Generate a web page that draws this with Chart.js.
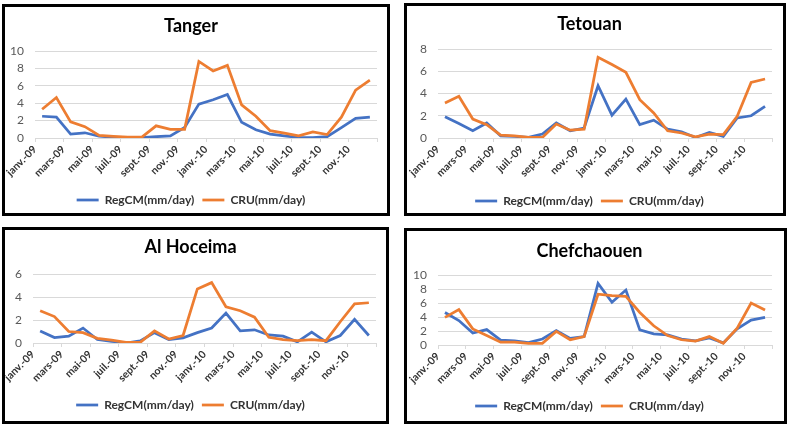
<!DOCTYPE html>
<html>
<head>
<meta charset="utf-8">
<script src="https://cdn.jsdelivr.net/npm/chart.js@4.4.1/dist/chart.umd.min.js"></script>
<style>
  body { margin: 0; background: #fff; width: 789px; height: 425px; position: relative; overflow: hidden; }
  .panel { position: absolute; border: 3px solid #000; background: #fff; }
  .panel canvas { display: block; }
</style>
</head>
<body>
<div class="panel" style="left:2px;top:4px;"><canvas id="tanger" width="382" height="206"></canvas></div>
<div class="panel" style="left:404px;top:3px;"><canvas id="tetouan" width="376" height="207"></canvas></div>
<div class="panel" style="left:2px;top:227px;"><canvas id="hoceima" width="381" height="191"></canvas></div>
<div class="panel" style="left:404px;top:228px;"><canvas id="chefchaouen" width="377" height="190"></canvas></div>
<script>
// mois de janv.-09 a dec.-10
const months = ['janv.-09', 'févr.-09', 'mars-09', 'avr.-09', 'mai-09', 'juin-09',
                'juil.-09', 'août-09', 'sept.-09', 'oct.-09', 'nov.-09', 'déc.-09',
                'janv.-10', 'févr.-10', 'mars-10', 'avr.-10', 'mai-10', 'juin-10',
                'juil.-10', 'août-10', 'sept.-10', 'oct.-10', 'nov.-10', 'déc.-10'];
const tickLabels = ['janv.-09', 'mars-09', 'mai-09', 'juil.-09', 'sept.-09', 'nov.-09',
                    'janv.-10', 'mars-10', 'mai-10', 'juil.-10', 'sept.-10', 'nov.-10'];

const tangerRegcm = [2.5, 2.4, 0.45, 0.6, 0.2, 0.1, 0.05, 0.05, 0.15, 0.25, 1.2, 3.9,
                     4.4, 5.0, 1.8, 0.95, 0.45, 0.25, 0.05, 0.05, 0.15, 1.2, 2.25, 2.4];
const tangerCru = [3.3, 4.65, 1.85, 1.3, 0.3, 0.2, 0.1, 0.1, 1.4, 1.0, 1.0, 8.8,
                   7.7, 8.35, 3.8, 2.5, 0.85, 0.55, 0.25, 0.7, 0.4, 2.4, 5.5, 6.65];

const tetouanRegcm = [1.9, 1.3, 0.65, 1.35, 0.2, 0.15, 0.05, 0.35, 1.35, 0.65, 0.9, 4.7,
                      2.05, 3.5, 1.2, 1.6, 0.8, 0.55, 0.05, 0.5, 0.15, 1.8, 2.0, 2.85];
const tetouanCru = [3.15, 3.75, 1.7, 1.2, 0.25, 0.2, 0.05, 0.05, 1.25, 0.7, 0.8, 7.25,
                    6.6, 5.9, 3.45, 2.25, 0.65, 0.45, 0.1, 0.35, 0.3, 1.95, 5.0, 5.3];

const hoceimaRegcm = [1.05, 0.47, 0.6, 1.3, 0.3, 0.15, 0.0, 0.18, 0.9, 0.3, 0.45, 0.9,
                      1.3, 2.6, 1.05, 1.15, 0.7, 0.6, 0.1, 0.95, 0.1, 0.65, 2.05, 0.65];
const hoceimaCru = [2.8, 2.3, 1.0, 0.9, 0.4, 0.25, 0.05, 0.05, 1.05, 0.35, 0.65, 4.7,
                    5.25, 3.15, 2.8, 2.25, 0.5, 0.3, 0.2, 0.3, 0.2, 1.85, 3.4, 3.5];

const chefRegcm = [4.65, 3.5, 1.7, 2.2, 0.7, 0.6, 0.35, 0.85, 2.05, 0.95, 1.2, 8.8,
                   6.1, 7.85, 2.15, 1.6, 1.45, 0.85, 0.6, 1.0, 0.3, 2.3, 3.55, 3.95];
const chefCru = [3.95, 5.05, 2.3, 1.35, 0.4, 0.4, 0.25, 0.25, 1.95, 0.75, 1.2, 7.25,
                 7.05, 6.95, 4.65, 2.75, 1.35, 0.75, 0.55, 1.2, 0.25, 2.4, 6.0, 5.0];

const BLUE = '#4472C4';
const ORANGE = '#ED7D31';
const FONT = 'Lato';

Chart.defaults.font.family = FONT;
Chart.defaults.animation = false;

// points places au milieu du mois (axe de dates Excel)
function toPoints(values) {
    return values.map((v, i) => ({ x: i + 0.5, y: v }));
}

function makeChart(id, title, regcm, cru, yMax, box) {
    const canvas = document.getElementById(id);
    const W = canvas.width, H = canvas.height;
    const titleLine = 18 * 1.2;
    const legPad = 8, legFont = 12;
    const legendH = (H - box.legendY) + legPad + legFont / 2;
    const xAxisH = H - legendH - box.bottom;

    new Chart(canvas.getContext('2d'), {
        type: 'line',
        data: {
            datasets: [
                {
                    label: 'RegCM(mm/day)',
                    data: toPoints(regcm),
                    borderColor: BLUE,
                    backgroundColor: BLUE,
                    borderWidth: 2.75,
                    pointRadius: 0,
                    tension: 0,
                    order: 1
                },
                {
                    label: 'CRU(mm/day)',
                    data: toPoints(cru),
                    borderColor: ORANGE,
                    backgroundColor: ORANGE,
                    borderWidth: 2.75,
                    pointRadius: 0,
                    tension: 0,
                    order: 0
                }
            ]
        },
        options: {
            responsive: false,
            layout: { padding: { left: 0, right: W - box.right, top: 0, bottom: 0 } },
            plugins: {
                title: {
                    display: true,
                    text: title,
                    color: '#000',
                    font: { size: 18, weight: 'bold' },
                    padding: { top: box.titleY - titleLine / 2, bottom: box.top - box.titleY - titleLine / 2 }
                },
                legend: {
                    position: 'bottom',
                    maxHeight: legendH,
                    labels: {
                        usePointStyle: true,
                        pointStyle: 'line',
                        pointStyleWidth: 22,
                        padding: legPad,
                        color: '#333',
                        font: { size: legFont, weight: 'bold' },
                        sort: (a, b) => a.datasetIndex - b.datasetIndex
                    }
                },
                tooltip: { enabled: false }
            },
            scales: {
                x: {
                    type: 'linear',
                    min: 0,
                    max: 24,
                    afterFit: function(scale) {
                        scale.height = xAxisH;
                        scale.paddingLeft = 0;
                        scale.paddingRight = 0;
                    },
                    ticks: {
                        stepSize: 2,
                        autoSkip: false,
                        maxRotation: 45,
                        minRotation: 45,
                        padding: 1,
                        color: '#333',
                        font: { size: 10.5, weight: 'bold' },
                        callback: function(value) {
                            return tickLabels[value / 2] || '';
                        }
                    },
                    grid: {
                        drawOnChartArea: false,
                        drawTicks: true,
                        tickLength: 4,
                        color: '#d9d9d9'
                    },
                    border: { color: '#d9d9d9', width: 1 }
                },
                y: {
                    min: 0,
                    max: yMax,
                    afterFit: function(scale) {
                        scale.width = box.left;
                    },
                    ticks: {
                        stepSize: 2,
                        autoSkip: false,
                        padding: 11,
                        color: '#595959',
                        font: { size: 12 }
                    },
                    grid: { color: '#d9d9d9', drawTicks: false },
                    border: { display: false }
                }
            }
        }
    });
}

makeChart('tanger', 'Tanger', tangerRegcm, tangerCru, 10,
    { left: 30, right: 372, top: 44, bottom: 131, titleY: 18.7, legendY: 193 });
makeChart('tetouan', 'Tetouan', tetouanRegcm, tetouanCru, 8,
    { left: 31, right: 365, top: 43, bottom: 132, titleY: 18.5, legendY: 195 });
makeChart('hoceima', 'Al Hoceima', hoceimaRegcm, hoceimaCru, 6,
    { left: 28, right: 371, top: 44, bottom: 113, titleY: 17.5, legendY: 175 });
makeChart('chefchaouen', 'Chefchaouen', chefRegcm, chefCru, 10,
    { left: 31, right: 365, top: 44, bottom: 114, titleY: 20.2, legendY: 175 });
</script>
</body>
</html>
